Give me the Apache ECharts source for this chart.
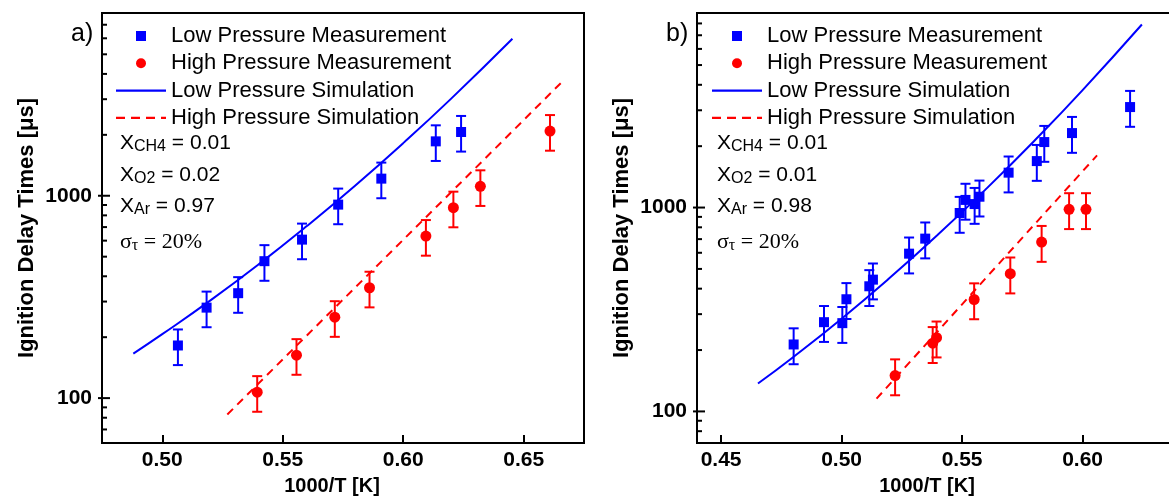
<!DOCTYPE html>
<html>
<head>
<meta charset="utf-8">
<script src="https://cdn.jsdelivr.net/npm/echarts@6/dist/echarts.min.js"></script>
<style>
html,body{margin:0;padding:0;background:#fff;}
#chart{width:1169px;height:502px;}
</style>
</head>
<body>
<div id="chart"></div>
<script>
// ---------- data ----------
const SERIES_NAMES = ['Low Pressure Measurement', 'High Pressure Measurement', 'Low Pressure Simulation', 'High Pressure Simulation'];
const SIGMA = 0.20; // stated uncertainty (sigma_tau = 20%)

// panel a)
const lowMeasA_x  = [0.5065, 0.5184, 0.5315, 0.5424, 0.558, 0.573, 0.5909, 0.6135, 0.624];
const lowMeasA_y  = [182, 280, 330, 475, 607, 904, 1215, 1857, 2066];
const highMeasA_x = [0.5394, 0.5557, 0.5716, 0.586, 0.6094, 0.6208, 0.632, 0.6609];
const highMeasA_y = [107, 163, 251, 351, 632, 873, 1113, 2087];
const lowSimA_x   = [0.488, 0.50, 0.52, 0.54, 0.56, 0.58, 0.60, 0.62, 0.6453];
const lowSimA_y   = [166, 207, 304, 458, 708, 1121, 1820, 3029, 5970];
const highSimA_x  = [0.527, 0.56, 0.60, 0.63, 0.6668];
const highSimA_y  = [83, 204, 606, 1372, 3747];

// panel b)
const lowMeasB_x  = [0.4801, 0.4927, 0.5003, 0.502, 0.5115, 0.513, 0.528, 0.5347, 0.549, 0.5514, 0.5552, 0.5572, 0.5693, 0.581, 0.5841, 0.5956, 0.6197];
const lowMeasB_y  = [213, 274, 271, 355, 411, 443, 594, 704, 940, 1090, 1040, 1130, 1483, 1690, 2095, 2319, 3111];
const highMeasB_x = [0.5222, 0.5378, 0.5394, 0.555, 0.570, 0.583, 0.5944, 0.6014];
const highMeasB_y = [150, 216, 230, 354, 474, 677, 980, 980];
const lowSimB_x   = [0.4653, 0.48, 0.50, 0.52, 0.54, 0.56, 0.58, 0.60, 0.6246];
const lowSimB_y   = [137, 185, 285, 452, 737, 1235, 2127, 3767, 7907];
const highSimB_x  = [0.5145, 0.54, 0.56, 0.58, 0.606];
const highSimB_y  = [115.5, 248, 453, 826, 1803];

// axis ranges and tick values
const X_RANGE_A = [0.475, 0.675];
const X_RANGE_B = [0.44, 0.64];
const Y_RANGE_A = [60, 8000];
const Y_RANGE_B = [70, 9000];
const Y_MAJOR_TICKS = [100, 1000];
const Y_MINOR_TICKS_A = [70, 80, 90, 200, 300, 400, 500, 600, 700, 800, 900, 2000, 3000, 4000, 5000, 6000, 7000];
const Y_MINOR_TICKS_B = [80, 90, 200, 300, 400, 500, 600, 700, 800, 900, 2000, 3000, 4000, 5000, 6000, 7000, 8000];

// annotation texts
const PANEL_LABELS = ['a)', 'b)'];
const COMPOSITION_A = [['CH4', '0.01'], ['O2', '0.02'], ['Ar', '0.97']];
const COMPOSITION_B = [['CH4', '0.01'], ['O2', '0.01'], ['Ar', '0.98']];
const SIGMA_TEXT = '20%';

// ---------- chart ----------
const BLUE = '#0000ff', RED = '#ff0000';
const SANS = '"Liberation Sans", Arial, Helvetica, sans-serif';
const SERIF = '"Liberation Serif", "Times New Roman", serif';

const zip = (xs, ys) => xs.map((x, i) => [x, ys[i]]);

function errorBarRender(color) {
  return function (params, api) {
    const x = api.value(0), y = api.value(1);
    const lo = api.coord([x, y * (1 - SIGMA)]);
    const hi = api.coord([x, y * (1 + SIGMA)]);
    const w = 5;
    const st = { stroke: color, lineWidth: 2, fill: null };
    return {
      type: 'group',
      children: [
        { type: 'line', shape: { x1: lo[0], y1: lo[1], x2: hi[0], y2: hi[1] }, style: st },
        { type: 'line', shape: { x1: lo[0] - w, y1: lo[1], x2: lo[0] + w, y2: lo[1] }, style: st },
        { type: 'line', shape: { x1: hi[0] - w, y1: hi[1], x2: hi[0] + w, y2: hi[1] }, style: st }
      ]
    };
  };
}

function tickRender(params, api) {
  const p = api.coord([api.value(0), api.value(1)]);
  const major = api.value(2) === 1;
  const out = major ? 4 : 0;
  const inn = major ? 8 : 5;
  return {
    type: 'line',
    shape: { x1: p[0] - out, y1: p[1], x2: p[0] + inn, y2: p[1] },
    style: { stroke: '#000', lineWidth: 2 }
  };
}

function xAxisOpt(gi, range) {
  return {
    gridIndex: gi, type: 'value', min: range[0], max: range[1],
    name: '1000/T [K]', nameLocation: 'middle', nameGap: 33,
    nameTextStyle: { fontFamily: SANS, fontSize: 20, fontWeight: 'bold', color: '#000', padding: [0, 22, 0, 0] },
    axisLine: { show: true, lineStyle: { color: '#000', width: 2 } },
    axisTick: { show: true, inside: true, length: 8, lineStyle: { color: '#000', width: 2 } },
    axisLabel: {
      fontFamily: SANS, fontSize: 21, fontWeight: 'bold', color: '#000', margin: 7,
      formatter: v => (Math.abs(v * 20 - Math.round(v * 20)) < 1e-6 ? v.toFixed(2) : '')
    },
    splitLine: { show: false }
  };
}

function yAxisOpt(gi, range) {
  return {
    gridIndex: gi, type: 'log', logBase: 10, min: range[0], max: range[1],
    name: 'Ignition Delay Times [μs]', nameLocation: 'middle', nameGap: 64,
    nameTextStyle: { fontFamily: SANS, fontSize: 22, fontWeight: 'bold', color: '#000' },
    axisLine: { show: true, lineStyle: { color: '#000', width: 2 } },
    axisTick: { show: false },
    axisLabel: {
      fontFamily: SANS, fontSize: 21, fontWeight: 'bold', color: '#000', margin: 10,
      formatter: v => { const l = Math.log10(v); return Math.abs(l - Math.round(l)) < 1e-6 ? String(Math.round(v)) : ''; }
    },
    splitLine: { show: false }
  };
}

function panelSeries(gi, d) {
  const idx = { xAxisIndex: gi, yAxisIndex: gi };
  const ticks = Y_MAJOR_TICKS.map(v => [d.xr[0], v, 1]).concat(d.minor.map(v => [d.xr[0], v, 0]));
  return [
    Object.assign({ type: 'custom', name: 'ticks' + gi, renderItem: tickRender, data: ticks, z: 5, silent: true, clip: false }, idx),
    Object.assign({ type: 'custom', name: 'errLow' + gi, renderItem: errorBarRender(BLUE), data: zip(d.lx, d.ly), z: 2, silent: true }, idx),
    Object.assign({ type: 'custom', name: 'errHigh' + gi, renderItem: errorBarRender(RED), data: zip(d.hx, d.hy), z: 2, silent: true }, idx),
    Object.assign({ type: 'scatter', name: SERIES_NAMES[0], data: zip(d.lx, d.ly), symbol: 'rect', symbolSize: 10, itemStyle: { color: BLUE, opacity: 1 }, z: 3 }, idx),
    Object.assign({ type: 'scatter', name: SERIES_NAMES[1], data: zip(d.hx, d.hy), symbol: 'circle', symbolSize: 11, itemStyle: { color: RED, opacity: 1 }, z: 3 }, idx),
    Object.assign({ type: 'line', name: SERIES_NAMES[2], data: zip(d.slx, d.sly), smooth: true, symbol: 'none', lineStyle: { color: BLUE, width: 2 }, itemStyle: { color: BLUE }, z: 4 }, idx),
    Object.assign({ type: 'line', name: SERIES_NAMES[3], data: zip(d.shx, d.shy), symbol: 'none', lineStyle: { color: RED, width: 2, type: [8, 6] }, itemStyle: { color: RED }, z: 4 }, idx)
  ];
}

const ICON_SQUARE = 'path://M0,0H10V10H0Z';
const ICON_LINE = 'path://M0,0H50V2.2H0Z';
const ICON_DASH = 'path://M0,0H9V2.2H0Z M15,0H24V2.2H15Z M30,0H39V2.2H30Z M45,0H50V2.2H45Z';

function legendOpt(left) {
  return {
    orient: 'vertical', left: left, top: 20, itemWidth: 50, itemHeight: 10, itemGap: 5.3,
    selectedMode: false, padding: 5, symbolKeepAspect: true,
    textStyle: { fontFamily: SANS, fontSize: 22, color: '#000' },
    data: [
      { name: SERIES_NAMES[0], icon: ICON_SQUARE, itemStyle: { color: BLUE, opacity: 1 } },
      { name: SERIES_NAMES[1], icon: 'circle', itemStyle: { color: RED, opacity: 1 } },
      { name: SERIES_NAMES[2], icon: ICON_LINE, itemStyle: { color: BLUE, opacity: 1 } },
      { name: SERIES_NAMES[3], icon: ICON_DASH, itemStyle: { color: RED, opacity: 1 } }
    ]
  };
}

function annotations(x0, comp) {
  const rows = [143, 175, 206];
  const rich = {
    m: { fontFamily: SANS, fontSize: 21, fill: '#000', lineHeight: 24 },
    s: { fontFamily: SANS, fontSize: 16, fill: '#000', lineHeight: 12, verticalAlign: 'bottom' },
    ms: { fontFamily: SERIF, fontSize: 22, fill: '#000', lineHeight: 24 },
    ss: { fontFamily: SERIF, fontSize: 16, fill: '#000', lineHeight: 12, verticalAlign: 'bottom' }
  };
  const els = comp.map((c, i) => ({
    type: 'text', x: x0, y: rows[i],
    style: { text: '{m|X}{s|' + c[0] + '}{m| = ' + c[1] + '}', rich: rich, align: 'left', verticalAlign: 'middle' }
  }));
  els.push({
    type: 'text', x: x0, y: 242,
    style: { text: '{ms|σ}{ss|τ}{ms| = ' + SIGMA_TEXT + '}', rich: rich, align: 'left', verticalAlign: 'middle' }
  });
  return els;
}

const chart = echarts.init(document.getElementById('chart'), null, { renderer: 'canvas' });
const gridCommon = { top: 13, width: 482, height: 430, show: true, borderColor: '#000', borderWidth: 2, backgroundColor: 'transparent', containLabel: false, outerBoundsMode: 'none' };
const option = {
  animation: false,
  backgroundColor: '#fff',
  grid: [
    Object.assign({ left: 102 }, gridCommon),
    Object.assign({ left: 697 }, gridCommon)
  ],
  xAxis: [xAxisOpt(0, X_RANGE_A), xAxisOpt(1, X_RANGE_B)],
  yAxis: [yAxisOpt(0, Y_RANGE_A), yAxisOpt(1, Y_RANGE_B)],
  legend: [legendOpt(111), legendOpt(707)],
  series: [].concat(
    panelSeries(0, { xr: X_RANGE_A, minor: Y_MINOR_TICKS_A, lx: lowMeasA_x, ly: lowMeasA_y, hx: highMeasA_x, hy: highMeasA_y, slx: lowSimA_x, sly: lowSimA_y, shx: highSimA_x, shy: highSimA_y }),
    panelSeries(1, { xr: X_RANGE_B, minor: Y_MINOR_TICKS_B, lx: lowMeasB_x, ly: lowMeasB_y, hx: highMeasB_x, hy: highMeasB_y, slx: lowSimB_x, sly: lowSimB_y, shx: highSimB_x, shy: highSimB_y })
  ),
  graphic: [
    { type: 'text', x: 71, y: 34, style: { text: PANEL_LABELS[0], font: '25px ' + SANS, fill: '#000', align: 'left', verticalAlign: 'middle' } },
    { type: 'text', x: 666, y: 34, style: { text: PANEL_LABELS[1], font: '25px ' + SANS, fill: '#000', align: 'left', verticalAlign: 'middle' } }
  ].concat(annotations(120, COMPOSITION_A), annotations(717, COMPOSITION_B))
};
chart.setOption(option);
</script>
</body>
</html>
